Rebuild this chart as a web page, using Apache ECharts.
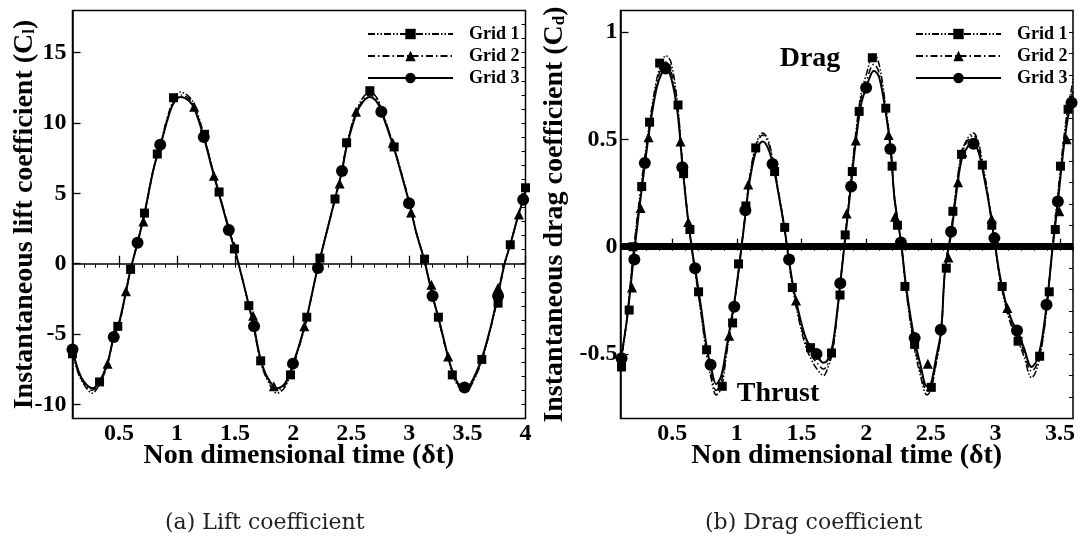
<!DOCTYPE html>
<html><head><meta charset="utf-8">
<script src="https://cdn.jsdelivr.net/npm/echarts@6/dist/echarts.min.js"></script>
<style>html,body{margin:0;padding:0;background:#fff}#c{width:1085px;height:537px}</style>
</head><body><div id="c"></div>
<script>
// ---------- Lift coefficient (panel a) ----------
const liftTime = [0.10,0.15,0.20,0.27,0.33,0.40,0.46,0.50,0.56,0.60,
  0.66,0.72,0.80,0.86,0.92,0.97,1.03,1.10,1.15,1.23,
  1.30,1.36,1.45,1.50,1.56,1.62,1.66,1.72,1.78,1.86,
  1.93,2.00,2.10,2.15,2.21,2.25,2.36,2.42,2.46,2.54,
  2.60,2.66,2.72,2.76,2.86,2.93,3.00,3.06,3.13,3.20,
  3.25,3.33,3.37,3.42,3.48,3.53,3.62,3.70,3.76,3.82,
  3.87,3.94,3.98,4.00];
const liftGrid1 = [-6.4,-7.8,-8.6,-9.2,-8.6,-7.2,-5.1,-4.4,-2.0,-0.4,
  1.5,3.6,6.9,8.6,10.5,11.6,12.2,11.9,11.3,9.2,
  6.9,5.1,2.4,1.0,-1.0,-3.0,-4.5,-7.0,-8.3,-9.2,
  -8.75,-7.3,-4.5,-2.6,-0.3,1.0,4.6,6.7,8.5,10.8,
  11.8,12.2,11.8,11.0,8.5,6.5,4.4,2.2,0.3,-2.3,
  -3.9,-6.6,-7.8,-8.7,-9.1,-8.7,-7.0,-4.6,-2.5,0.0,
  1.4,3.5,4.6,5.3];
const liftGrid2 = [-6.2,-7.7,-8.5,-9.0,-8.5,-7.1,-5.1,-4.3,-2.0,-0.4,
  1.5,3.5,6.8,8.5,10.4,11.5,12.0,11.75,11.15,9.1,
  6.9,5.1,2.4,1.0,-1.0,-3.1,-4.5,-6.9,-8.2,-9.0,
  -8.6,-7.2,-4.4,-2.6,-0.3,1.0,4.6,6.6,8.4,10.7,
  11.6,12.0,11.65,10.9,8.5,6.5,4.3,2.2,0.2,-2.3,
  -3.9,-6.6,-7.7,-8.6,-8.95,-8.6,-6.9,-4.5,-2.2,0.0,
  1.4,3.5,4.55,5.2];
const liftGrid3 = [-6.1,-7.6,-8.4,-8.85,-8.4,-7.1,-5.0,-4.2,-2.0,-0.4,
  1.5,3.6,6.8,8.5,10.3,11.4,11.85,11.6,11.0,9.0,
  6.8,5.0,2.3,0.9,-1.0,-3.0,-4.4,-6.8,-8.1,-8.85,
  -8.5,-7.1,-4.4,-2.6,-0.3,1.0,4.6,6.6,8.3,10.6,
  11.5,11.85,11.5,10.8,8.4,6.4,4.3,2.2,0.2,-2.3,
  -3.8,-6.5,-7.6,-8.5,-8.85,-8.5,-6.8,-4.5,-2.3,0.0,
  1.4,3.5,4.55,5.2];
const liftMarks1 = [[0.1,-6.4],[0.333,-8.4],[0.49,-4.45],[0.6,-0.4],[0.72,3.6],[0.83,7.8],[0.97,11.8],
  [1.237,9.2],[1.362,5.1],[1.494,1.05],[1.618,-2.98],[1.72,-6.9],[1.977,-7.9],[2.117,-3.8],[2.23,0.4],
  [2.36,4.6],[2.46,8.6],[2.66,12.3],[2.869,8.3],[3.131,0.33],[3.25,-3.8],[3.37,-7.9],[3.624,-6.8],
  [3.764,-2.8],[3.869,1.35],[4.0,5.4]];
const liftMarks2 = [[0.402,-7.1],[0.56,-1.95],[0.71,3.0],[1.147,11.15],[1.317,6.25],[1.494,1.2],[1.655,-3.7],
  [1.833,-8.7],[2.096,-4.45],[2.40,5.7],[2.541,10.8],[2.857,8.6],[3.015,3.65],[3.19,-1.5],[3.334,-6.6],
  [3.764,-1.7],[3.943,3.5]];
const liftMarks3 = [[0.1,-6.1],[0.455,-5.2],[0.66,1.5],[0.855,8.45],[1.23,9.0],[1.446,2.4],[1.663,-4.45],
  [1.998,-7.1],[2.213,-0.3],[2.42,6.6],[2.759,10.8],[2.997,4.3],[3.2,-2.3],[3.475,-8.8],[3.764,-2.3],[3.98,4.55]];

// ---------- Drag coefficient (panel b) ----------
const dragTime = [0.10,0.15,0.20,0.25,0.29,0.33,0.38,0.42,0.45,0.49,
  0.54,0.58,0.62,0.66,0.68,0.72,0.77,0.80,0.84,0.88,
  0.92,0.96,0.98,1.02,1.07,1.10,1.15,1.20,1.24,1.28,
  1.33,1.37,1.40,1.44,1.48,1.53,1.58,1.62,1.67,1.70,
  1.74,1.78,1.80,1.84,1.88,1.92,1.96,2.00,2.06,2.10,
  2.15,2.19,2.22,2.27,2.31,2.37,2.42,2.47,2.50,2.54,
  2.58,2.61,2.66,2.70,2.74,2.79,2.83,2.87,2.91,2.95,
  2.99,3.03,3.08,3.13,3.17,3.22,3.28,3.32,3.36,3.40,
  3.44,3.48,3.52,3.56,3.59,3.60];
const dragGrid1 = [-0.56,-0.33,-0.02,0.24,0.43,0.60,0.78,0.86,0.89,0.86,
  0.67,0.39,0.14,-0.05,-0.13,-0.30,-0.52,-0.61,-0.69,-0.66,
  -0.50,-0.35,-0.27,-0.08,0.18,0.33,0.48,0.53,0.50,0.40,
  0.23,0.08,-0.06,-0.22,-0.34,-0.46,-0.53,-0.57,-0.60,-0.57,
  -0.49,-0.29,-0.17,0.06,0.30,0.53,0.71,0.80,0.90,0.85,
  0.66,0.46,0.23,0.02,-0.21,-0.46,-0.60,-0.69,-0.67,-0.55,
  -0.40,-0.11,0.09,0.29,0.44,0.51,0.53,0.48,0.36,0.21,
  0.04,-0.13,-0.28,-0.38,-0.43,-0.51,-0.61,-0.57,-0.46,-0.27,
  0.00,0.23,0.46,0.65,0.74,0.78];
const dragGrid2 = [-0.55,-0.33,-0.04,0.22,0.41,0.58,0.76,0.84,0.86,0.82,
  0.65,0.38,0.14,-0.05,-0.12,-0.29,-0.50,-0.59,-0.67,-0.63,
  -0.49,-0.34,-0.27,-0.08,0.17,0.32,0.47,0.52,0.49,0.39,
  0.22,0.08,-0.06,-0.21,-0.33,-0.44,-0.51,-0.54,-0.57,-0.55,
  -0.48,-0.29,-0.17,0.06,0.29,0.51,0.69,0.77,0.85,0.81,
  0.64,0.46,0.22,0.02,-0.20,-0.44,-0.58,-0.67,-0.65,-0.54,
  -0.40,-0.11,0.08,0.28,0.43,0.50,0.52,0.46,0.35,0.21,
  0.04,-0.13,-0.27,-0.37,-0.41,-0.49,-0.58,-0.55,-0.45,-0.26,
  -0.01,0.21,0.44,0.62,0.70,0.74];
const dragGrid3 = [-0.53,-0.34,-0.06,0.20,0.39,0.57,0.74,0.81,0.83,0.79,
  0.63,0.37,0.14,-0.04,-0.11,-0.27,-0.48,-0.56,-0.64,-0.60,
  -0.47,-0.33,-0.26,-0.08,0.17,0.31,0.45,0.49,0.46,0.38,
  0.22,0.08,-0.05,-0.20,-0.31,-0.42,-0.48,-0.51,-0.54,-0.53,
  -0.46,-0.28,-0.17,0.05,0.27,0.49,0.66,0.74,0.82,0.79,
  0.63,0.45,0.22,0.02,-0.19,-0.42,-0.55,-0.65,-0.64,-0.52,
  -0.39,-0.11,0.07,0.26,0.41,0.47,0.48,0.44,0.33,0.20,
  0.04,-0.12,-0.26,-0.35,-0.39,-0.47,-0.56,-0.53,-0.43,-0.25,
  -0.02,0.19,0.42,0.60,0.67,0.70];
const dragMarks1 = [[0.108,-0.56],[0.167,-0.295],[0.197,0],[0.264,0.28],[0.325,0.58],[0.403,0.855],[0.545,0.66],
  [0.588,0.34],[0.637,0.08],[0.704,-0.21],[0.766,-0.48],[0.887,-0.65],[0.967,-0.355],[1.013,-0.08],[1.07,0.19],
  [1.146,0.46],[1.292,0.35],[1.37,0.09],[1.429,-0.19],[1.57,-0.47],[1.732,-0.495],[1.798,-0.225],[1.838,0.055],
  [1.893,0.35],[1.946,0.63],[2.048,0.88],[2.152,0.645],[2.201,0.375],[2.242,0.1],[2.30,-0.185],[2.375,-0.455],
  [2.504,-0.655],[2.62,-0.1],[2.671,0.165],[2.738,0.43],[2.899,0.38],[2.972,0.10],[3.052,-0.185],[3.175,-0.44],
  [3.342,-0.51],[3.416,-0.21],[3.463,0.08],[3.503,0.375],[3.562,0.64]];
const dragMarks2 = [[0.189,-0.19],[0.255,0.18],[0.317,0.51],[0.564,0.49],[0.624,0.115],[0.94,-0.415],[1.088,0.29],
  [1.276,0.39],[1.458,-0.25],[1.849,0.155],[1.92,0.495],[2.174,0.52],[2.223,0.14],[2.477,-0.545],[2.636,-0.05],
  [2.711,0.3],[2.745,0.44],[2.97,0.13],[3.092,-0.285],[3.494,0.165],[3.551,0.5]];
const dragMarks3 = [[0.108,-0.52],[0.207,-0.06],[0.288,0.39],[0.449,0.83],[0.578,0.37],[0.677,-0.1],[0.797,-0.55],
  [0.98,-0.28],[1.066,0.17],[1.276,0.385],[1.404,-0.06],[1.616,-0.50],[1.80,-0.17],[1.884,0.28],[2.0,0.74],
  [2.187,0.455],[2.269,0.02],[2.375,-0.425],[2.577,-0.387],[2.657,0.07],[2.83,0.48],[2.992,0.04],[3.167,-0.39],
  [3.395,-0.27],[3.483,0.21],[3.589,0.67]];

// ---------- Tick labels ----------
const liftXTicks = [0.5,1,1.5,2,2.5,3,3.5,4];
const liftYTicks = [-10,-5,0,5,10,15];
const dragXTicks = [0.5,1,1.5,2,2.5,3,3.5];
const dragYTicks = [-0.5,0,0.5,1];
const seriesNames = ['Grid 1','Grid 2','Grid 3'];

const FONT = '"Liberation Serif", "Times New Roman", serif';
const pair = (t, v) => t.map((x, i) => [x, v[i]]);
const lbl = {fontFamily: FONT, fontWeight: 'bold', fontSize: 24, color: '#000'};
const nameStyle = {fontFamily: FONT, fontWeight: 'bold', fontSize: 28, color: '#000',
  rich: {s: {fontFamily: FONT, fontWeight: 'bold', fontSize: 17, color: '#000', verticalAlign: 'bottom'}}};
const axLine = {show: true, lineStyle: {color: '#000', width: 1.5}};

function majorAxis(grid, min, max, ticks, extra) {
  return Object.assign({type: 'value', gridIndex: grid, min: min, max: max,
    axisLine: axLine, splitLine: {show: false}, nameMoveOverlap: false,
    axisTick: {show: true, inside: true, length: 8, customValues: ticks, lineStyle: {color: '#000', width: 1.3}},
    axisLabel: {show: true, customValues: ticks, ...lbl}}, extra);
}
function minorAxis(grid, min, max, interval) {
  return {type: 'value', gridIndex: grid, min: min, max: max, interval: interval,
    axisLine: {show: false}, splitLine: {show: false}, axisLabel: {show: false},
    axisTick: {show: true, inside: true, length: 4, lineStyle: {color: '#000', width: 1}}};
}

const lineStyles = [
  {color: '#000', width: 1.5, type: [7, 2, 1.5, 2, 1.5, 2]},
  {color: '#000', width: 1.5, type: [7, 3, 1.5, 3]},
  {color: '#000', width: 2, type: 'solid'}
];
const symbols = ['rect', 'triangle', 'circle'];
const symSizes = [9, 10, 12];

function panelSeries(xi, yi, time, curves, marks, extraFirst) {
  const out = [];
  curves.forEach((vals, k) => {
    const s = {type: 'line', name: seriesNames[k], xAxisIndex: xi, yAxisIndex: yi,
      data: pair(time, vals), smooth: 0.35, showSymbol: false, symbol: symbols[k], symbolSize: symSizes[k],
      lineStyle: lineStyles[k], itemStyle: {color: '#000', opacity: 1}, z: 3, silent: true};
    if (k === 0 && extraFirst) Object.assign(s, extraFirst);
    out.push(s);
  });
  marks.forEach((m, k) => {
    out.push({type: 'scatter', name: seriesNames[k] + ' pts', xAxisIndex: xi, yAxisIndex: yi,
      data: m, symbol: symbols[k], symbolSize: symSizes[k], itemStyle: {color: '#000', opacity: 1}, z: 5, silent: true});
  });
  return out;
}

const legendBase = {data: seriesNames, orient: 'vertical', top: 25, padding: 0, itemWidth: 85, itemHeight: 13,
  itemGap: 4, selectedMode: false,
  textStyle: {fontFamily: FONT, fontWeight: 'bold', fontSize: 18, color: '#000', padding: [0, 0, 0, 11], lineHeight: 13}};

const option = {
  animation: false,
  backgroundColor: '#fff',
  grid: [
    {left: 72.5, top: 10.5, width: 453, height: 408, show: true, borderColor: '#000', borderWidth: 1.5, backgroundColor: 'transparent'},
    {left: 620.5, top: 10.5, width: 452.5, height: 408, show: true, borderColor: '#000', borderWidth: 1.5, backgroundColor: 'transparent'}
  ],
  xAxis: [
    majorAxis(0, 0.1, 4, liftXTicks, {name: 'Non dimensional time (δt)', nameLocation: 'middle', nameGap: 23, nameTextStyle: nameStyle, axisLabel: {show: true, customValues: liftXTicks, margin: 3, ...lbl}}),
    minorAxis(0, 0.1, 4, 0.1),
    majorAxis(1, 0.1, 3.6, dragXTicks, {name: 'Non dimensional time (δt)', nameLocation: 'middle', nameGap: 23, nameTextStyle: nameStyle, axisLabel: {show: true, customValues: dragXTicks, margin: 3, ...lbl}}),
    minorAxis(1, 0.1, 3.6, 0.1)
  ],
  yAxis: [
    majorAxis(0, -11, 18, liftYTicks, {name: 'Instantaneous lift coefficient (C{s|l})', nameLocation: 'middle', nameGap: 34, nameTextStyle: nameStyle, axisLabel: {show: true, customValues: liftYTicks, margin: 6, ...lbl}}),
    minorAxis(0, -11, 18, 1),
    majorAxis(1, -0.8, 1.1, dragYTicks, {name: 'Instantaneous drag coefficient (C{s|d})', nameLocation: 'middle', nameGap: 52, nameTextStyle: nameStyle, axisLabel: {show: true, customValues: dragYTicks, margin: 3, ...lbl}}),
    minorAxis(1, -0.8, 1.1, 0.1)
  ],
  legend: [Object.assign({}, legendBase, {left: 367}), Object.assign({}, legendBase, {left: 915})],
  series: [
    ...panelSeries(0, 0, liftTime, [liftGrid1, liftGrid2, liftGrid3], [liftMarks1, liftMarks2, liftMarks3]),
    ...panelSeries(2, 2, dragTime, [dragGrid1, dragGrid2, dragGrid3], [dragMarks1, dragMarks2, dragMarks3], {
      markLine: {silent: true, symbol: 'none', label: {show: false}, animation: false,
        lineStyle: {color: '#000', width: 7, type: 'solid'}, data: [{yAxis: 0}]}
    })
  ],
  graphic: [
    {type: 'text', x: 810, y: 59, style: {text: 'Drag', font: 'bold 28px "Liberation Serif"', fill: '#000', align: 'center', verticalAlign: 'middle'}},
    {type: 'text', x: 778, y: 394, style: {text: 'Thrust', font: 'bold 28px "Liberation Serif"', fill: '#000', align: 'center', verticalAlign: 'middle'}},
    {type: 'text', x: 165, y: 523, style: {text: '(a) Lift coefficient', font: '22px "DejaVu Serif"', fill: '#222', align: 'left', verticalAlign: 'middle'}},
    {type: 'text', x: 705, y: 523, style: {text: '(b) Drag coefficient', font: '22px "DejaVu Serif"', fill: '#222', align: 'left', verticalAlign: 'middle'}}
  ]
};
const chart = echarts.init(document.getElementById('c'));
chart.setOption(option);
</script></body></html>
